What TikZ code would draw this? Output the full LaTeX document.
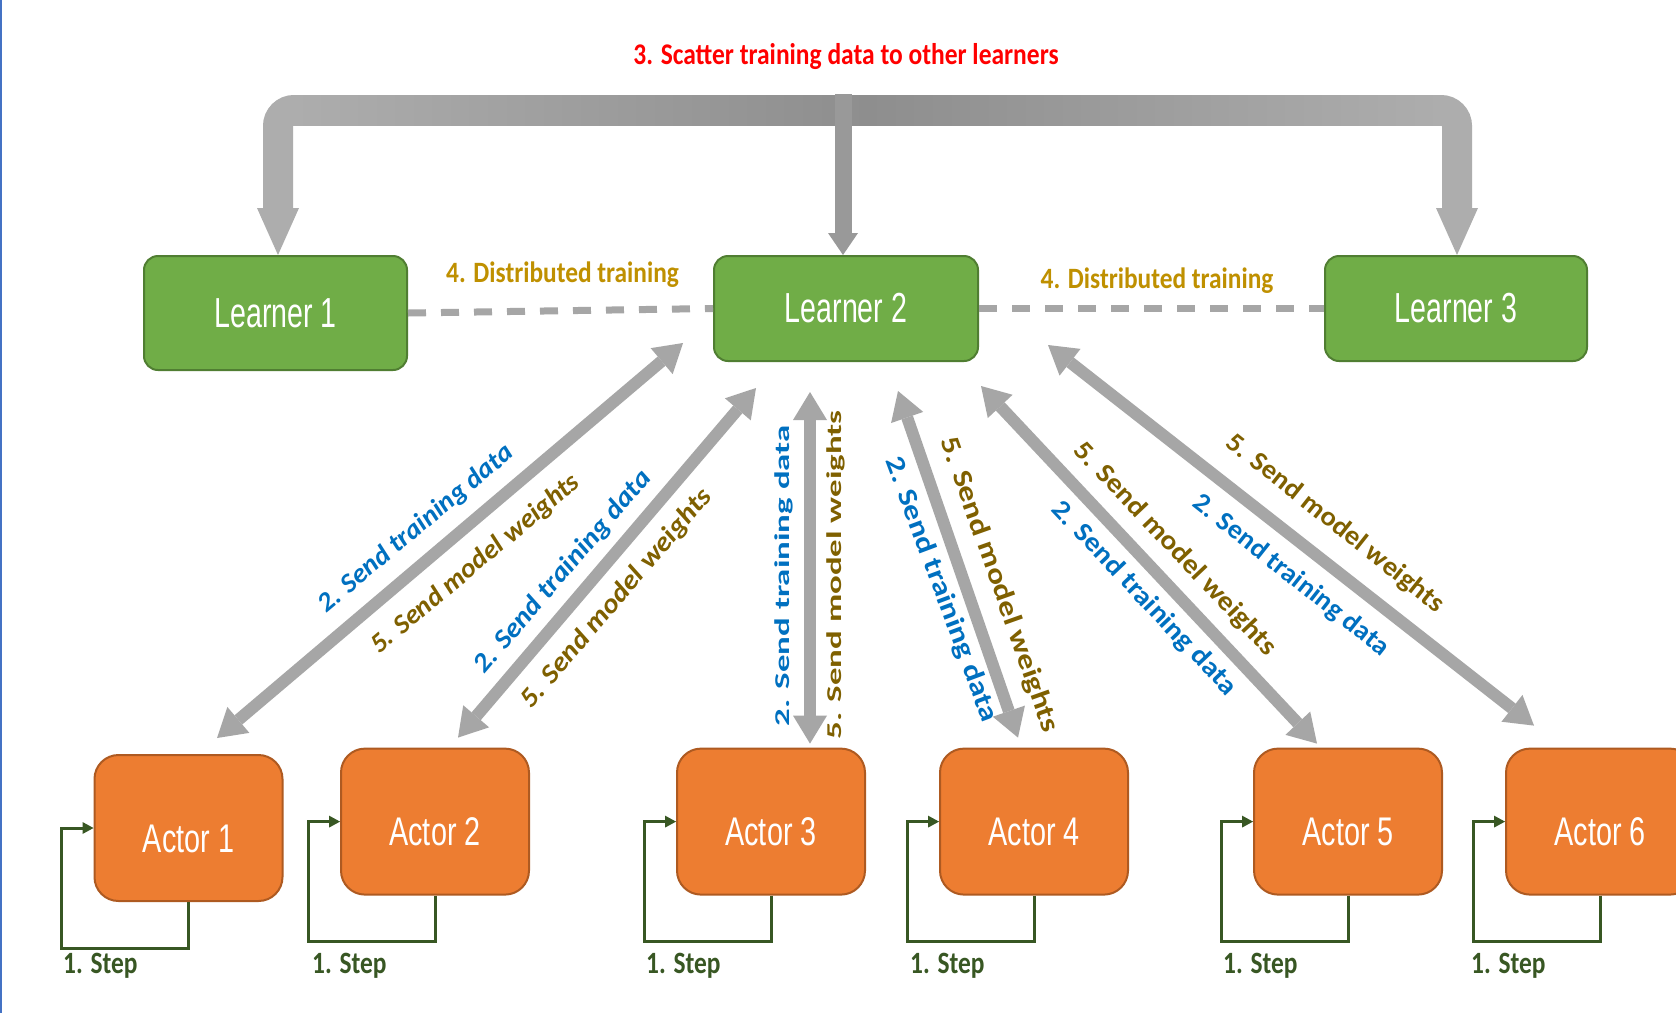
\documentclass[tikz,border=0pt]{standalone}
\usepackage{fontspec}
\setmainfont{Liberation Sans}
\newfontfamily\calib{Carlito}
\usetikzlibrary{arrows.meta}
\definecolor{lgreen}{HTML}{70AD47}
\definecolor{lgreenb}{HTML}{507E32}
\definecolor{orng}{HTML}{ED7D31}
\definecolor{orngb}{HTML}{AE5A21}
\definecolor{arrgray}{HTML}{A6A6A6}
\definecolor{barend}{HTML}{ADADAD}
\definecolor{barmid}{HTML}{8E8E8E}
\definecolor{blu}{HTML}{0070C0}
\definecolor{olv}{HTML}{7F6000}
\definecolor{gold}{HTML}{BF9000}
\definecolor{stepg}{HTML}{385723}
\definecolor{edgeblue}{HTML}{4472C4}
\newcommand{\hsq}[2]{\scalebox{#1}[1]{#2}}
\newcommand{\stretchtxt}[1]{\scalebox{1.29}[0.78]{#1}}
\begin{document}
\begin{tikzpicture}[x=1pt,y=-1pt,
  learner/.style={draw=lgreenb, line width=2pt, fill=lgreen, rounded corners=14pt, inner sep=0pt, text=white, font=\fontsize{42}{46}\selectfont},
  actor/.style={draw=orngb, line width=2pt, fill=orng, rounded corners=24pt, minimum width=188pt, minimum height=146pt, inner sep=0pt, text=white, text height=48pt, text depth=0pt, font=\fontsize{40}{44}\selectfont},
  dbl/.style={draw=arrgray, line width=12pt, {Triangle[length=28pt,width=34pt,line width=0pt]}-{Triangle[length=28pt,width=34pt,line width=0pt]}},
  steploop/.style={draw=stepg, line width=3pt, -{Triangle[length=11pt,width=12pt,line width=0pt]}},
  steplabel/.style={text=stepg, font=\calib\bfseries\fontsize{31}{34}\selectfont, inner sep=0pt, anchor=west},
  dist/.style={text=gold, font=\calib\bfseries\fontsize{29.5}{32}\selectfont, inner sep=0pt},
  lblL/.style={font=\calib\bfseries\itshape\fontsize{27}{30}\selectfont, inner sep=0pt},
  lblR/.style={font=\calib\bfseries\fontsize{27}{30}\selectfont, inner sep=0pt},
]
\useasboundingbox (0,0) rectangle (1676,1013);
\clip (0,0) rectangle (1676,1013);
\fill[white] (0,0) rectangle (1676,1013);
\draw[edgeblue, line width=2pt] (1,0) -- (1,1013);

% nodes
\node[learner, minimum width=263pt, minimum height=114pt] (L1) at (275.5,313) {\hsq{0.68}{Learner 1}};
\node[learner, minimum width=264pt, minimum height=105pt] (L2) at (846,308.5) {\hsq{0.68}{Learner 2}};
\node[learner, minimum width=262pt, minimum height=105pt] (L3) at (1456,308.5) {\hsq{0.68}{Learner 3}};
\node[actor] (A1) at (188.5,828) {\hsq{0.72}{Actor 1}};
\node[actor] (A2) at (435,821.6) {\hsq{0.72}{Actor 2}};
\node[actor] (A3) at (771,821.6) {\hsq{0.72}{Actor 3}};
\node[actor] (A4) at (1034,821.6) {\hsq{0.72}{Actor 4}};
\node[actor] (A5) at (1348,821.6) {\hsq{0.72}{Actor 5}};
\node[actor] (A6) at (1600,821.6) {\hsq{0.72}{Actor 6}};

% top scatter arrow
\coordinate (barM) at (846,110);
\draw[draw=barend, line width=30pt, rounded corners=16pt,
  {Triangle[length=47pt,width=42pt,line width=0pt]}-{Triangle[length=47pt,width=42pt,line width=0pt]}]
  ([xshift=2.5pt]L1.north) |- (barM) -| ([xshift=1pt]L3.north);
\shade[left color=barend, right color=barend, middle color=barmid] (293,95) rectangle (1442,125);
\coordinate (barTop) at (843,94);
\draw[draw=barmid!90!white, line width=17pt, -{Triangle[length=22pt,width=30pt,line width=0pt]}] (barTop) -- ([xshift=-3pt]L2.north);

% distributed training
\draw[arrgray, line width=7pt, dash pattern=on 18pt off 15pt] (L1.east) -- (L2.west);
\draw[arrgray, line width=7pt, dash pattern=on 18pt off 15pt] (L2.east) -- (L3.west);
\node[dist] (D1) at (562.5,275) {\hsq{0.86}{4. Distributed training}};
\node[dist] (D2) at (1157,280.5) {\hsq{0.86}{4. Distributed training}};
\node[text=red, font=\calib\bfseries\fontsize{30}{34}\selectfont, inner sep=0pt] (title) at (846,57) {\hsq{0.85}{3. Scatter training data to other learners}};

% actor <-> learner 2 arrows
\draw[dbl] ([shift={(28.5,-16)}]A1.north) -- ([shift={(-30,-19)}]L2.south west);
\draw[dbl] ([shift={(23,-10)}]A2.north) -- ([shift={(43,26)}]L2.south west);
\draw[dbl] ([shift={(39,-4)}]A3.north) -- ([shift={(-36,30)}]L2.south);
\draw[dbl] ([shift={(-16,-10)}]A4.north) -- ([shift={(52,29)}]L2.south);
\draw[dbl] ([shift={(-31,-4)}]A5.north) -- ([shift={(2,24)}]L2.south east);
\draw[dbl] ([shift={(-66,-22)}]A6.north) -- ([shift={(69,-17)}]L2.south east);

% labels
\node[lblL, text=blu, rotate=40] (t1) at (415.8,529) {\hsq{1.04}{2. Send training data}};
\node[lblL, text=olv, rotate=40] (w1) at (475.6,564.4) {\hsq{1.04}{5. Send model weights}};
\node[lblL, text=blu, rotate=49.5] (t2) at (563,572) {\hsq{1.09}{2. Send training data}};
\node[lblL, text=olv, rotate=49.5] (w2) at (617,598.6) {\hsq{1.1}{5. Send model weights}};
\node[lblR, text=blu, rotate=90] (t3) at (783.5,576) {\stretchtxt{2. Send training data}};
\node[lblR, text=olv, rotate=90] (w3) at (836,575) {\stretchtxt{5. Send model weights}};
\node[lblR, text=blu, rotate=-69.5] (t4) at (941,589.5) {\hsq{1.2}{2. Send training data}};
\node[lblR, text=olv, rotate=-70.5] (w4) at (999,585) {\hsq{1.22}{5. Send model weights}};
\node[lblR, text=blu, rotate=-46.6] (t5) at (1144,598.6) {\hsq{1.1}{2. Send training data}};
\node[lblR, text=olv, rotate=-46.6] (w5) at (1175,549) {\hsq{1.11}{5. Send model weights}};
\node[lblR, text=blu, rotate=-38.4] (t6) at (1290.7,575.6) {\hsq{1.04}{2. Send training data}};
\node[lblR, text=olv, rotate=-38.4] (w6) at (1335,523.8) {\hsq{1.06}{5. Send model weights}};

% step loops
\foreach \a in {A1,A2,A3,A4,A5,A6}{
  \draw[steploop] (\a.south) -- ++(0,46) -| ([xshift=-32pt]\a.west) -- (\a.west);
}
\node[steplabel] (s1) at (63,966) {\hsq{0.82}{1. Step}};
\node[steplabel] (s2) at (312,966) {\hsq{0.82}{1. Step}};
\node[steplabel] (s3) at (646,966) {\hsq{0.82}{1. Step}};
\node[steplabel] (s4) at (910,966) {\hsq{0.82}{1. Step}};
\node[steplabel] (s5) at (1223,966) {\hsq{0.82}{1. Step}};
\node[steplabel] (s6) at (1471,966) {\hsq{0.82}{1. Step}};
\end{tikzpicture}
\end{document}
